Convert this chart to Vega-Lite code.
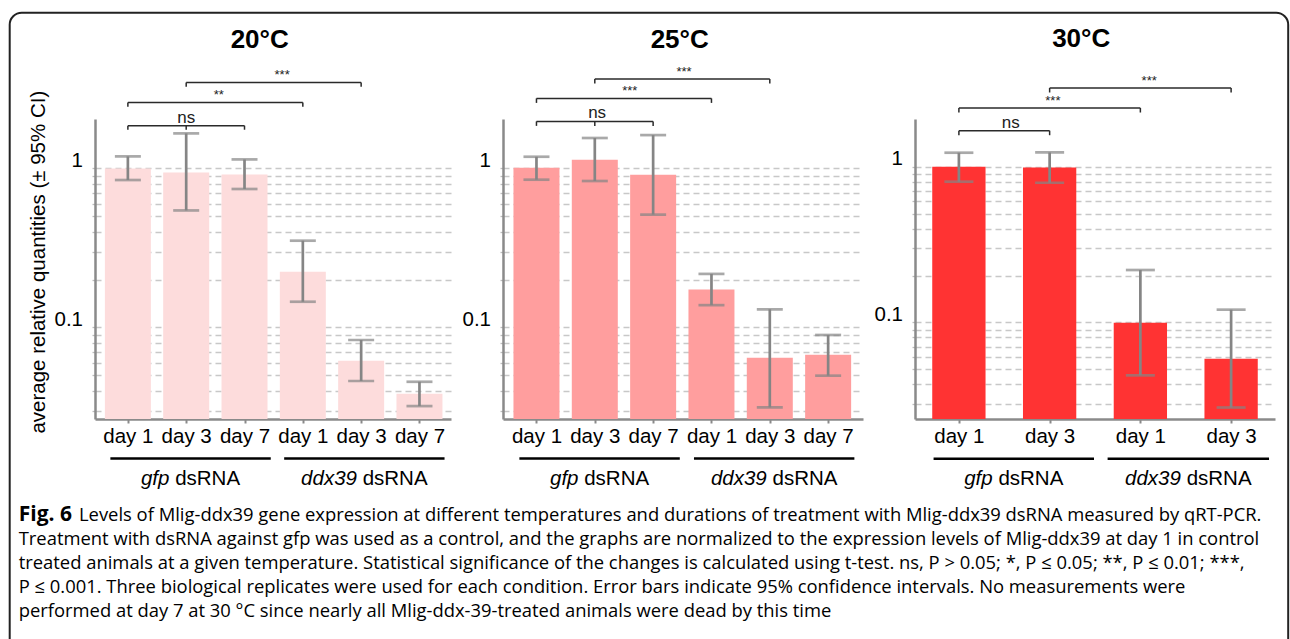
{
  "$schema": "https://vega.github.io/schema/vega-lite/v6.json",
  "padding": {"left": 8, "top": 11, "right": 0, "bottom": 0},
  "background": "white",
  "config": {
    "view": {"stroke": null},
    "font": "Liberation Sans",
    "axis": {"domainColor": "#8a8a8a", "domainWidth": 2.5, "tickColor": "#8a8a8a", "labelFont": "Liberation Sans", "labelFontSize": 20.5, "labelColor": "#000000", "titleFont": "Liberation Sans", "titleFontSize": 20.5, "titleFontWeight": "normal", "titleColor": "#000000", "labelFlush": false, "labelOverlap": false},
    "axisX": {"tickSize": 4, "tickWidth": 2, "labelPadding": 3, "grid": false},
    "axisY": {"tickSize": 3, "tickColor": "#bdbdbd", "tickWidth": 1.3, "labelPadding": 9.5, "labelOffset": -8, "grid": true, "gridDash": [6, 4], "gridColor": "#c8c8c8", "gridWidth": 1.3, "titlePadding": 6},
    "title": {"font": "Liberation Sans", "fontSize": 26, "fontWeight": "bold", "color": "#000000", "anchor": "middle", "frame": "group"}
  },
  "datasets": {
    "bars": [
      {"temp": 20, "pos": 1, "treatment": "gfp dsRNA", "day": "day 1", "mean": 1.0, "lo": 0.845, "hi": 1.19},
      {"temp": 20, "pos": 2, "treatment": "gfp dsRNA", "day": "day 3", "mean": 0.944, "lo": 0.544, "hi": 1.66},
      {"temp": 20, "pos": 3, "treatment": "gfp dsRNA", "day": "day 7", "mean": 0.917, "lo": 0.742, "hi": 1.139},
      {"temp": 20, "pos": 4, "treatment": "ddx39 dsRNA", "day": "day 1", "mean": 0.224, "lo": 0.145, "hi": 0.351},
      {"temp": 20, "pos": 5, "treatment": "ddx39 dsRNA", "day": "day 3", "mean": 0.0617, "lo": 0.046, "hi": 0.0833},
      {"temp": 20, "pos": 6, "treatment": "ddx39 dsRNA", "day": "day 7", "mean": 0.0383, "lo": 0.032, "hi": 0.0455},
      {"temp": 25, "pos": 1, "treatment": "gfp dsRNA", "day": "day 1", "mean": 1.01, "lo": 0.849, "hi": 1.184},
      {"temp": 25, "pos": 2, "treatment": "gfp dsRNA", "day": "day 3", "mean": 1.134, "lo": 0.833, "hi": 1.553},
      {"temp": 25, "pos": 3, "treatment": "gfp dsRNA", "day": "day 7", "mean": 0.913, "lo": 0.512, "hi": 1.62},
      {"temp": 25, "pos": 4, "treatment": "ddx39 dsRNA", "day": "day 1", "mean": 0.173, "lo": 0.138, "hi": 0.217},
      {"temp": 25, "pos": 5, "treatment": "ddx39 dsRNA", "day": "day 3", "mean": 0.0645, "lo": 0.0314, "hi": 0.13},
      {"temp": 25, "pos": 6, "treatment": "ddx39 dsRNA", "day": "day 7", "mean": 0.0673, "lo": 0.0497, "hi": 0.0896},
      {"temp": 30, "pos": 1, "treatment": "gfp dsRNA", "day": "day 1", "mean": 1.0, "lo": 0.801, "hi": 1.23},
      {"temp": 30, "pos": 2, "treatment": "gfp dsRNA", "day": "day 3", "mean": 0.99, "lo": 0.789, "hi": 1.235},
      {"temp": 30, "pos": 3, "treatment": "ddx39 dsRNA", "day": "day 1", "mean": 0.0996, "lo": 0.0457, "hi": 0.217},
      {"temp": 30, "pos": 4, "treatment": "ddx39 dsRNA", "day": "day 3", "mean": 0.0585, "lo": 0.0284, "hi": 0.1207}
    ],
    "brackets": [
      {"temp": 20, "x1": 1, "x2": 3, "y": 1.856, "xm": 2.0, "label": "ns"},
      {"temp": 20, "x1": 1, "x2": 4, "y": 2.601, "xm": 2.56, "label": "**"},
      {"temp": 20, "x1": 2, "x2": 5, "y": 3.474, "xm": 3.645, "label": "***"},
      {"temp": 25, "x1": 1, "x2": 3, "y": 1.975, "xm": 2.04, "label": "ns"},
      {"temp": 25, "x1": 1, "x2": 4, "y": 2.756, "xm": 2.6, "label": "***"},
      {"temp": 25, "x1": 2, "x2": 5, "y": 3.65, "xm": 3.53, "label": "***"},
      {"temp": 30, "x1": 1, "x2": 2, "y": 1.703, "xm": 1.572, "label": "ns"},
      {"temp": 30, "x1": 1, "x2": 3, "y": 2.382, "xm": 2.036, "label": "***"},
      {"temp": 30, "x1": 2, "x2": 4, "y": 3.203, "xm": 3.097, "label": "***"}
    ],
    "bticks": [
      {"temp": 20, "x": 1, "y": 1.856, "yb": 1.751},
      {"temp": 20, "x": 2, "y": 1.856, "yb": 1.751},
      {"temp": 20, "x": 3, "y": 1.856, "yb": 1.751},
      {"temp": 20, "x": 1, "y": 2.601, "yb": 2.443},
      {"temp": 20, "x": 4, "y": 2.601, "yb": 2.443},
      {"temp": 20, "x": 2, "y": 3.474, "yb": 3.265},
      {"temp": 20, "x": 5, "y": 3.474, "yb": 3.265},
      {"temp": 25, "x": 1, "y": 1.975, "yb": 1.851},
      {"temp": 25, "x": 2, "y": 1.975, "yb": 1.851},
      {"temp": 25, "x": 3, "y": 1.975, "yb": 1.851},
      {"temp": 25, "x": 1, "y": 2.756, "yb": 2.582},
      {"temp": 25, "x": 4, "y": 2.756, "yb": 2.582},
      {"temp": 25, "x": 2, "y": 3.65, "yb": 3.42},
      {"temp": 25, "x": 5, "y": 3.65, "yb": 3.42},
      {"temp": 30, "x": 1, "y": 1.703, "yb": 1.593},
      {"temp": 30, "x": 2, "y": 1.703, "yb": 1.593},
      {"temp": 30, "x": 1, "y": 2.382, "yb": 2.229},
      {"temp": 30, "x": 3, "y": 2.382, "yb": 2.229},
      {"temp": 30, "x": 2, "y": 3.203, "yb": 2.997},
      {"temp": 30, "x": 4, "y": 3.203, "yb": 2.997}
    ],
    "groups": [
      {"temp": 20, "gene": "gfp", "x1": 0.7, "x2": 3.45, "xc": 2.075, "yl": 0.01496, "yt": 0.0112},
      {"temp": 20, "gene": "ddx39", "x1": 3.68, "x2": 6.43, "xc": 5.055, "yl": 0.01496, "yt": 0.0112},
      {"temp": 25, "gene": "gfp", "x1": 0.707, "x2": 3.457, "xc": 2.082, "yl": 0.01496, "yt": 0.0112},
      {"temp": 25, "gene": "ddx39", "x1": 3.7, "x2": 6.45, "xc": 5.075, "yl": 0.01496, "yt": 0.0112},
      {"temp": 30, "gene": "gfp", "x1": 0.721, "x2": 2.489, "xc": 1.605, "yl": 0.01332, "yt": 0.00991},
      {"temp": 30, "gene": "ddx39", "x1": 2.639, "x2": 4.418, "xc": 3.5285, "yl": 0.01332, "yt": 0.00991}
    ],
    "caption": [
      {"line": 1, "part": "bold", "text": "Fig. 6"},
      {"line": 1, "part": "rest", "text": "Levels of Mlig-ddx39 gene expression at different temperatures and durations of treatment with Mlig-ddx39 dsRNA measured by qRT-PCR."},
      {"line": 2, "part": "body", "text": "Treatment with dsRNA against gfp was used as a control, and the graphs are normalized to the expression levels of Mlig-ddx39 at day 1 in control"},
      {"line": 3, "part": "body", "text": "treated animals at a given temperature. Statistical significance of the changes is calculated using t-test. ns, P > 0.05; *, P ≤ 0.05; **, P ≤ 0.01; ***,"},
      {"line": 4, "part": "body", "text": "P ≤ 0.001. Three biological replicates were used for each condition. Error bars indicate 95% confidence intervals. No measurements were"},
      {"line": 5, "part": "body", "text": "performed at day 7 at 30 °C since nearly all Mlig-ddx-39-treated animals were dead by this time"}
    ]
  },
  "concat": [
    {
      "width": 356, "height": 300,
      "title": {"text": "20°C", "dx": -13.3, "offset": 16},
      "layer": [
        {"data": {"name": "bars"}, "transform": [{"filter": "datum.temp == 20"}],
         "mark": {"type": "bar", "color": "#fddcdc", "width": 46},
         "encoding": {
           "x": {"field": "pos", "type": "quantitative", "scale": {"domain": [0.522, 6.455], "nice": false, "zero": false}, "title": null,
                 "axis": {"values": [1, 2, 3, 4, 5, 6], "labelExpr": "['','day 1','day 3','day 7','day 1','day 3','day 7'][datum.value]"}},
           "y": {"field": "mean", "type": "quantitative", "scale": {"type": "log", "domain": [0.02654, 2.045], "nice": false}, "title": "average relative quantities (± 95% CI)",
                 "axis": {"values": [0.03, 0.04, 0.05, 0.06, 0.07, 0.08, 0.09, 0.1, 0.2, 0.3, 0.4, 0.5, 0.6, 0.7, 0.8, 0.9, 1], "labelExpr": "datum.value == 1 ? '1' : (datum.value == 0.1 ? '0.1' : '')", "titleY": 142.7}},
           "y2": {"datum": 0.02654}
         }},
        {"data": {"name": "bars"}, "transform": [{"filter": "datum.temp == 20"}],
         "mark": {"type": "errorbar", "ticks": true, "size": 26, "thickness": 2.7, "color": "#858585"},
         "encoding": {"x": {"field": "pos", "type": "quantitative", "title": null}, "y": {"field": "lo", "type": "quantitative", "title": "average relative quantities (± 95% CI)"}, "y2": {"field": "hi"}}},
        {"data": {"name": "brackets"}, "transform": [{"filter": "datum.temp == 20"}],
         "mark": {"type": "rule", "color": "#2a2a2a", "strokeWidth": 1.5},
         "encoding": {"x": {"field": "x1", "type": "quantitative", "title": null}, "x2": {"field": "x2"}, "y": {"field": "y", "type": "quantitative", "title": "average relative quantities (± 95% CI)"}}},
        {"data": {"name": "bticks"}, "transform": [{"filter": "datum.temp == 20"}],
         "mark": {"type": "rule", "color": "#2a2a2a", "strokeWidth": 1.5},
         "encoding": {"x": {"field": "x", "type": "quantitative", "title": null}, "y": {"field": "y", "type": "quantitative", "title": "average relative quantities (± 95% CI)"}, "y2": {"field": "yb"}}},
        {"data": {"name": "brackets"}, "transform": [{"filter": "datum.temp == 20"}],
         "mark": {"type": "text", "baseline": "alphabetic", "dy": -3, "font": "Liberation Sans", "color": "#222222"},
         "encoding": {"x": {"field": "xm", "type": "quantitative", "title": null}, "y": {"field": "y", "type": "quantitative", "title": "average relative quantities (± 95% CI)"}, "text": {"field": "label"}, "size": {"condition": {"test": "datum.label == 'ns'", "value": 17}, "value": 13}}},
        {"data": {"name": "groups"}, "transform": [{"filter": "datum.temp == 20"}],
         "mark": {"type": "rule", "color": "#000000", "strokeWidth": 2.5},
         "encoding": {"x": {"field": "x1", "type": "quantitative", "title": null}, "x2": {"field": "x2"}, "y": {"field": "yl", "type": "quantitative", "title": "average relative quantities (± 95% CI)"}}},
        {"data": {"name": "groups"}, "transform": [{"filter": "datum.temp == 20 && datum.gene == 'gfp'"}],
         "mark": {"type": "text", "fontSize": 20.5, "fontStyle": "italic", "align": "right", "baseline": "middle", "dx": -21.1, "color": "#000000"},
         "encoding": {"x": {"field": "xc", "type": "quantitative", "title": null}, "y": {"field": "yt", "type": "quantitative", "title": "average relative quantities (± 95% CI)"}, "text": {"field": "gene"}}},
        {"data": {"name": "groups"}, "transform": [{"filter": "datum.temp == 20 && datum.gene == 'gfp'"}],
         "mark": {"type": "text", "fontSize": 20.5, "align": "left", "baseline": "middle", "dx": -15.4, "color": "#000000", "text": "dsRNA"},
         "encoding": {"x": {"field": "xc", "type": "quantitative", "title": null}, "y": {"field": "yt", "type": "quantitative", "title": "average relative quantities (± 95% CI)"}}},
        {"data": {"name": "groups"}, "transform": [{"filter": "datum.temp == 20 && datum.gene == 'ddx39'"}],
         "mark": {"type": "text", "fontSize": 20.5, "fontStyle": "italic", "align": "right", "baseline": "middle", "dx": -7.4, "color": "#000000"},
         "encoding": {"x": {"field": "xc", "type": "quantitative", "title": null}, "y": {"field": "yt", "type": "quantitative", "title": "average relative quantities (± 95% CI)"}, "text": {"field": "gene"}}},
        {"data": {"name": "groups"}, "transform": [{"filter": "datum.temp == 20 && datum.gene == 'ddx39'"}],
         "mark": {"type": "text", "fontSize": 20.5, "align": "left", "baseline": "middle", "dx": -1.7, "color": "#000000", "text": "dsRNA"},
         "encoding": {"x": {"field": "xc", "type": "quantitative", "title": null}, "y": {"field": "yt", "type": "quantitative", "title": "average relative quantities (± 95% CI)"}}}
      ]
    },
    {
      "width": 360, "height": 300,
      "title": {"text": "25°C", "dx": -3.3, "offset": 13},
      "layer": [
        {"data": {"name": "bars"}, "transform": [{"filter": "datum.temp == 25"}],
         "mark": {"type": "bar", "color": "#ff9e9e", "width": 46},
         "encoding": {
           "x": {"field": "pos", "type": "quantitative", "scale": {"domain": [0.512, 6.512], "nice": false, "zero": false}, "title": null,
                 "axis": {"values": [1, 2, 3, 4, 5, 6], "labelExpr": "['','day 1','day 3','day 7','day 1','day 3','day 7'][datum.value]"}},
           "y": {"field": "mean", "type": "quantitative", "scale": {"type": "log", "domain": [0.02654, 2.045], "nice": false}, "title": null,
                 "axis": {"values": [0.03, 0.04, 0.05, 0.06, 0.07, 0.08, 0.09, 0.1, 0.2, 0.3, 0.4, 0.5, 0.6, 0.7, 0.8, 0.9, 1], "labelExpr": "datum.value == 1 ? '1' : (datum.value == 0.1 ? '0.1' : '')"}},
           "y2": {"datum": 0.02654}
         }},
        {"data": {"name": "bars"}, "transform": [{"filter": "datum.temp == 25"}],
         "mark": {"type": "errorbar", "ticks": true, "size": 26, "thickness": 2.7, "color": "#858585"},
         "encoding": {"x": {"field": "pos", "type": "quantitative", "title": null}, "y": {"field": "lo", "type": "quantitative", "title": null}, "y2": {"field": "hi"}}},
        {"data": {"name": "brackets"}, "transform": [{"filter": "datum.temp == 25"}],
         "mark": {"type": "rule", "color": "#2a2a2a", "strokeWidth": 1.5},
         "encoding": {"x": {"field": "x1", "type": "quantitative", "title": null}, "x2": {"field": "x2"}, "y": {"field": "y", "type": "quantitative", "title": null}}},
        {"data": {"name": "bticks"}, "transform": [{"filter": "datum.temp == 25"}],
         "mark": {"type": "rule", "color": "#2a2a2a", "strokeWidth": 1.5},
         "encoding": {"x": {"field": "x", "type": "quantitative", "title": null}, "y": {"field": "y", "type": "quantitative", "title": null}, "y2": {"field": "yb"}}},
        {"data": {"name": "brackets"}, "transform": [{"filter": "datum.temp == 25"}],
         "mark": {"type": "text", "baseline": "alphabetic", "dy": -3, "font": "Liberation Sans", "color": "#222222"},
         "encoding": {"x": {"field": "xm", "type": "quantitative", "title": null}, "y": {"field": "y", "type": "quantitative", "title": null}, "text": {"field": "label"}, "size": {"condition": {"test": "datum.label == 'ns'", "value": 17}, "value": 13}}},
        {"data": {"name": "groups"}, "transform": [{"filter": "datum.temp == 25"}],
         "mark": {"type": "rule", "color": "#000000", "strokeWidth": 2.5},
         "encoding": {"x": {"field": "x1", "type": "quantitative", "title": null}, "x2": {"field": "x2"}, "y": {"field": "yl", "type": "quantitative", "title": null}}},
        {"data": {"name": "groups"}, "transform": [{"filter": "datum.temp == 25 && datum.gene == 'gfp'"}],
         "mark": {"type": "text", "fontSize": 20.5, "fontStyle": "italic", "align": "right", "baseline": "middle", "dx": -21.1, "color": "#000000"},
         "encoding": {"x": {"field": "xc", "type": "quantitative", "title": null}, "y": {"field": "yt", "type": "quantitative", "title": null}, "text": {"field": "gene"}}},
        {"data": {"name": "groups"}, "transform": [{"filter": "datum.temp == 25 && datum.gene == 'gfp'"}],
         "mark": {"type": "text", "fontSize": 20.5, "align": "left", "baseline": "middle", "dx": -15.4, "color": "#000000", "text": "dsRNA"},
         "encoding": {"x": {"field": "xc", "type": "quantitative", "title": null}, "y": {"field": "yt", "type": "quantitative", "title": null}}},
        {"data": {"name": "groups"}, "transform": [{"filter": "datum.temp == 25 && datum.gene == 'ddx39'"}],
         "mark": {"type": "text", "fontSize": 20.5, "fontStyle": "italic", "align": "right", "baseline": "middle", "dx": -7.4, "color": "#000000"},
         "encoding": {"x": {"field": "xc", "type": "quantitative", "title": null}, "y": {"field": "yt", "type": "quantitative", "title": null}, "text": {"field": "gene"}}},
        {"data": {"name": "groups"}, "transform": [{"filter": "datum.temp == 25 && datum.gene == 'ddx39'"}],
         "mark": {"type": "text", "fontSize": 20.5, "align": "left", "baseline": "middle", "dx": -1.7, "color": "#000000", "text": "dsRNA"},
         "encoding": {"x": {"field": "xc", "type": "quantitative", "title": null}, "y": {"field": "yt", "type": "quantitative", "title": null}}}
      ]
    },
    {
      "width": 360, "height": 300,
      "title": {"text": "30°C", "dx": -13.8, "offset": 23},
      "layer": [
        {"data": {"name": "bars"}, "transform": [{"filter": "datum.temp == 30"}],
         "mark": {"type": "bar", "color": "#ff3333", "width": 53.3},
         "encoding": {
           "x": {"field": "pos", "type": "quantitative", "scale": {"domain": [0.5714, 4.4286], "nice": false, "zero": false}, "title": null,
                 "axis": {"values": [1, 2, 3, 4], "labelExpr": "['','day 1','day 3','day 1','day 3'][datum.value]"}},
           "y": {"field": "mean", "type": "quantitative", "scale": {"type": "log", "domain": [0.02396, 2.025], "nice": false}, "title": null,
                 "axis": {"values": [0.03, 0.04, 0.05, 0.06, 0.07, 0.08, 0.09, 0.1, 0.2, 0.3, 0.4, 0.5, 0.6, 0.7, 0.8, 0.9, 1], "labelExpr": "datum.value == 1 ? '1' : (datum.value == 0.1 ? '0.1' : '')"}},
           "y2": {"datum": 0.02396}
         }},
        {"data": {"name": "bars"}, "transform": [{"filter": "datum.temp == 30"}],
         "mark": {"type": "errorbar", "ticks": true, "size": 29, "thickness": 2.7, "color": "#858585"},
         "encoding": {"x": {"field": "pos", "type": "quantitative", "title": null}, "y": {"field": "lo", "type": "quantitative", "title": null}, "y2": {"field": "hi"}}},
        {"data": {"name": "brackets"}, "transform": [{"filter": "datum.temp == 30"}],
         "mark": {"type": "rule", "color": "#2a2a2a", "strokeWidth": 1.5},
         "encoding": {"x": {"field": "x1", "type": "quantitative", "title": null}, "x2": {"field": "x2"}, "y": {"field": "y", "type": "quantitative", "title": null}}},
        {"data": {"name": "bticks"}, "transform": [{"filter": "datum.temp == 30"}],
         "mark": {"type": "rule", "color": "#2a2a2a", "strokeWidth": 1.5},
         "encoding": {"x": {"field": "x", "type": "quantitative", "title": null}, "y": {"field": "y", "type": "quantitative", "title": null}, "y2": {"field": "yb"}}},
        {"data": {"name": "brackets"}, "transform": [{"filter": "datum.temp == 30"}],
         "mark": {"type": "text", "baseline": "alphabetic", "dy": -3, "font": "Liberation Sans", "color": "#222222"},
         "encoding": {"x": {"field": "xm", "type": "quantitative", "title": null}, "y": {"field": "y", "type": "quantitative", "title": null}, "text": {"field": "label"}, "size": {"condition": {"test": "datum.label == 'ns'", "value": 17}, "value": 13}}},
        {"data": {"name": "groups"}, "transform": [{"filter": "datum.temp == 30"}],
         "mark": {"type": "rule", "color": "#000000", "strokeWidth": 2.5},
         "encoding": {"x": {"field": "x1", "type": "quantitative", "title": null}, "x2": {"field": "x2"}, "y": {"field": "yl", "type": "quantitative", "title": null}}},
        {"data": {"name": "groups"}, "transform": [{"filter": "datum.temp == 30 && datum.gene == 'gfp'"}],
         "mark": {"type": "text", "fontSize": 20.5, "fontStyle": "italic", "align": "right", "baseline": "middle", "dx": -21.1, "color": "#000000"},
         "encoding": {"x": {"field": "xc", "type": "quantitative", "title": null}, "y": {"field": "yt", "type": "quantitative", "title": null}, "text": {"field": "gene"}}},
        {"data": {"name": "groups"}, "transform": [{"filter": "datum.temp == 30 && datum.gene == 'gfp'"}],
         "mark": {"type": "text", "fontSize": 20.5, "align": "left", "baseline": "middle", "dx": -15.4, "color": "#000000", "text": "dsRNA"},
         "encoding": {"x": {"field": "xc", "type": "quantitative", "title": null}, "y": {"field": "yt", "type": "quantitative", "title": null}}},
        {"data": {"name": "groups"}, "transform": [{"filter": "datum.temp == 30 && datum.gene == 'ddx39'"}],
         "mark": {"type": "text", "fontSize": 20.5, "fontStyle": "italic", "align": "right", "baseline": "middle", "dx": -7.4, "color": "#000000"},
         "encoding": {"x": {"field": "xc", "type": "quantitative", "title": null}, "y": {"field": "yt", "type": "quantitative", "title": null}, "text": {"field": "gene"}}},
        {"data": {"name": "groups"}, "transform": [{"filter": "datum.temp == 30 && datum.gene == 'ddx39'"}],
         "mark": {"type": "text", "fontSize": 20.5, "align": "left", "baseline": "middle", "dx": -1.7, "color": "#000000", "text": "dsRNA"},
         "encoding": {"x": {"field": "xc", "type": "quantitative", "title": null}, "y": {"field": "yt", "type": "quantitative", "title": null}}}
      ]
    },
    {
      "width": 300, "height": 119.5,
      "layer": [
        {"data": {"name": "caption"}, "transform": [{"filter": "datum.part == 'bold'"}],
         "mark": {"type": "text", "font": "Open Sans", "fontSize": 21, "fontWeight": "bold", "align": "left", "baseline": "middle", "color": "#000000"},
         "encoding": {"x": {"value": -76.3}, "y": {"field": "line", "type": "quantitative", "scale": {"domain": [0.5, 5.5], "reverse": true, "nice": false, "zero": false}, "axis": null}, "text": {"field": "text"}}},
        {"data": {"name": "caption"}, "transform": [{"filter": "datum.part == 'rest'"}],
         "mark": {"type": "text", "font": "Open Sans", "fontSize": 18.4, "align": "left", "baseline": "middle", "color": "#000000"},
         "encoding": {"x": {"value": -16}, "y": {"field": "line", "type": "quantitative"}, "text": {"field": "text"}}},
        {"data": {"name": "caption"}, "transform": [{"filter": "datum.part == 'body'"}],
         "mark": {"type": "text", "font": "Open Sans", "fontSize": 18.4, "align": "left", "baseline": "middle", "color": "#000000"},
         "encoding": {"x": {"value": -76.3}, "y": {"field": "line", "type": "quantitative"}, "text": {"field": "text"}}},
        {"data": {"values": [{"frame": "border"}]},
         "mark": {"type": "rect", "filled": false, "stroke": "#222222", "strokeWidth": 2, "cornerRadius": 12},
         "encoding": {"x": {"value": -85.3}, "x2": {"value": 1193.2}, "y": {"value": -490.55}, "y2": {"value": 157.45}}}
      ]
    }
  ],
  "columns": 3,
  "align": "none",
  "spacing": {"row": 84.25, "column": 52},
  "bounds": "flush"
}
